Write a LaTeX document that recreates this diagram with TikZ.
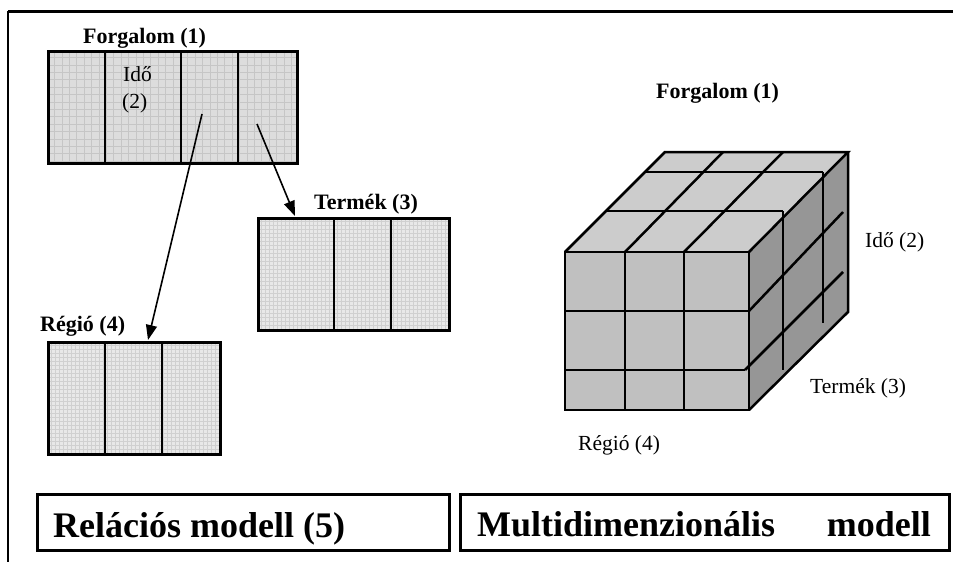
\documentclass[tikz,border=0pt]{standalone}
\usepackage{fontspec}
\setmainfont{Liberation Serif}
\usetikzlibrary{arrows.meta}

\definecolor{coarsebg}{HTML}{DDDDDD}
\definecolor{coarseln}{HTML}{C6C6C6}
\definecolor{finebg}{HTML}{E8E8E8}
\definecolor{fineln}{HTML}{D0D0D0}
\definecolor{cubefront}{HTML}{C0C0C0}
\definecolor{cubetop}{HTML}{CCCCCC}
\definecolor{cubeside}{HTML}{969696}

\begin{document}
\begin{tikzpicture}[x=1pt,y=-1pt,
  tbl/.style={draw=black,line width=2.5pt,rectangle,inner sep=0pt,anchor=north west},
  divider/.style={line width=2.5pt},
  lblb/.style={font=\fontsize{22}{24}\selectfont\bfseries,inner sep=0pt},
  lbl/.style={font=\fontsize{21.5}{24}\selectfont,inner sep=0pt},
  big/.style={font=\fontsize{36}{40}\selectfont\bfseries,inner sep=0pt},
  titlebox/.style={draw=black,line width=2.5pt,rectangle,inner sep=0pt,anchor=north west},
  coarse/.style={draw=coarseln,line width=0.6pt},
  fine/.style={draw=fineln,line width=0.45pt},
  arr/.style={line width=1.6pt,-{Triangle[length=15pt,width=11pt]}},
  edge/.style={line width=2.5pt,line join=miter}]

\useasboundingbox (0,0) rectangle (953,562);

% frame lines along the top and the left
\draw[line width=3pt] (8,11) -- (953,11);
\draw[line width=2.5pt] (8,11) -- (8,562);

% ---------- relational model: table backgrounds with grid texture ----------
\fill[coarsebg] (47,50) rectangle (296,162);
\begin{scope}
  \clip (47,50) rectangle (296,162);
  \foreach \x in {47,54.4,...,300} \draw[coarse] (\x,50) -- (\x,162);
  \foreach \y in {50,57.4,...,166} \draw[coarse] (47,\y) -- (296,\y);
\end{scope}

\fill[finebg] (257,217) rectangle (448,329);
\begin{scope}
  \clip (257,217) rectangle (448,329);
  \foreach \x in {257,261,...,450} \draw[fine] (\x,217) -- (\x,329);
  \foreach \y in {217,221,...,330} \draw[fine] (257,\y) -- (448,\y);
\end{scope}

\fill[finebg] (47,341) rectangle (219,453);
\begin{scope}
  \clip (47,341) rectangle (219,453);
  \foreach \x in {47,51,...,222} \draw[fine] (\x,341) -- (\x,453);
  \foreach \y in {341,345,...,455} \draw[fine] (47,\y) -- (219,\y);
\end{scope}

% table outlines
\node[tbl,minimum width=249pt,minimum height=112pt] (forg) at (47,50) {};
\node[tbl,minimum width=191pt,minimum height=112pt] (term) at (257,217) {};
\node[tbl,minimum width=172pt,minimum height=112pt] (regio) at (47,341) {};

% column dividers
\foreach \x in {105,181,238} \draw[divider] (\x,50) -- (\x,162);
\foreach \x in {334,391} \draw[divider] (\x,217) -- (\x,329);
\foreach \x in {105,162} \draw[divider] (\x,341) -- (\x,453);

% table titles
\node[lblb,anchor=base west] (tforg) at (83,43) {Forgalom (1)};
\node[lblb,anchor=base west] (tterm) at (314,209) {Termék (3)};
\node[lblb,anchor=base west] (tregio) at (40,331) {Régió (4)};
\node[lbl,anchor=base west] (ido1) at (123,81) {Idő};
\node[lbl,anchor=base west] (ido2) at (122,108) {(2)};

% links between tables
\coordinate (s1) at (202,114);
\coordinate (e1) at (148,340);
\coordinate (s2) at (257,124);
\coordinate (e2) at (295,216);
\draw[arr] (s1) -- (e1);
\draw[arr] (s2) -- (e2);

% ---------- multidimensional model: data cube ----------
\fill[cubefront] (565,252) rectangle (749,410);
\fill[cubetop] (565,252) -- (665,152) -- (848,152) -- (749,252) -- cycle;
\fill[cubeside] (749,252) -- (848,152) -- (848,312) -- (749,410) -- cycle;

% front face cells
\draw[edge] (625,252) -- (625,410);
\draw[edge] (684,252) -- (684,410);
\draw[edge] (565,311) -- (749,311);
\draw[edge] (565,370) -- (745,370);
% top face cells
\draw[edge] (606,211) -- (783,211);
\draw[edge] (646,172) -- (823,172);
\draw[edge] (625,252) -- (723,152);
\draw[edge] (684,252) -- (783,152);
% side face cells
\draw[edge] (783,211) -- (783,370);
\draw[edge] (823,172) -- (823,323);
\draw[edge] (749,311) -- (843,212);
\draw[edge] (745,370) -- (843,272);
% cube outline
\draw[edge] (565,252) rectangle (749,410);
\draw[edge] (565,252) -- (665,152) -- (848,152) -- (749,252);
\draw[edge] (848,152) -- (848,312) -- (749,410);

% axis labels
\node[lblb,anchor=base west] (cforg) at (656,98) {Forgalom (1)};
\node[lbl,anchor=base west] (cido) at (865,247) {Idő (2)};
\node[lbl,anchor=base west] (cterm) at (810,393) {Termék (3)};
\node[lbl,anchor=base west] (cregio) at (578,450) {Régió (4)};

% ---------- captions ----------
\node[titlebox,minimum width=412pt,minimum height=56pt] (cap1) at (36,493) {};
\node[titlebox,minimum width=489pt,minimum height=56pt] (cap2) at (459,493) {};
\node[big,anchor=base west] (cap1t) at (53,537) {Relációs modell (5)};
\node[big,anchor=base west] (cap2a) at (477,536) {Multidimenzionális};
\node[big,anchor=base east] (cap2b) at (931,536) {modell};

\end{tikzpicture}
\end{document}
